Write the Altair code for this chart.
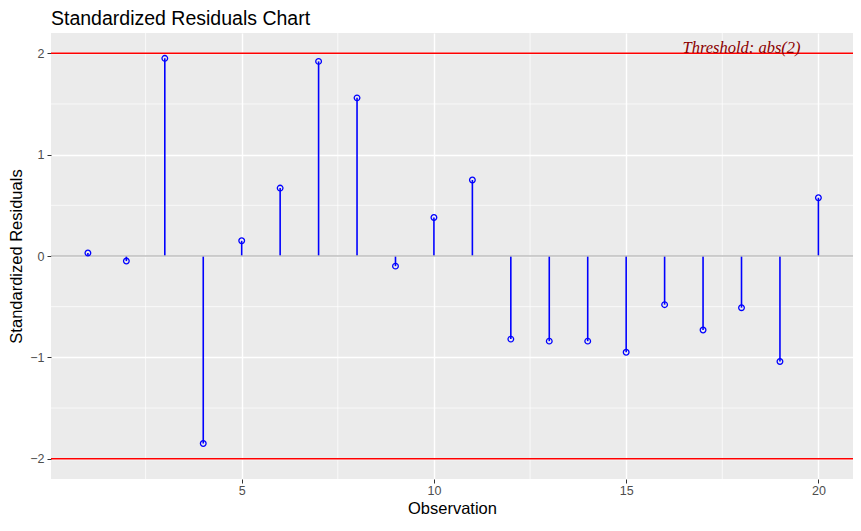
import altair as alt
import pandas as pd

# ---- data ----
observation = list(range(1, 21))
residuals = [0.03, -0.05, 1.95, -1.85, 0.15, 0.67, 1.92, 1.56, -0.10, 0.38,
             0.75, -0.82, -0.84, -0.84, -0.95, -0.48, -0.73, -0.51, -1.04, 0.575]
thresholds = [-2, 2]
zero_line = [0]
x_ticks = [5, 10, 15, 20]
y_ticks = [-2, -1, 0, 1, 2]
x_minor = [2.5, 7.5, 12.5, 17.5]
y_minor = [-1.5, -0.5, 0.5, 1.5]
note_text = ["Threshold: abs(2)"]
note_x = [18]
note_y = [2]

df = pd.DataFrame({"Observation": observation, "Residual": residuals})
thr_df = pd.DataFrame({"Residual": thresholds})
zero_df = pd.DataFrame({"Residual": zero_line})
xmin_df = pd.DataFrame({"Observation": x_minor})
ymin_df = pd.DataFrame({"Residual": y_minor})
note_df = pd.DataFrame({"Observation": note_x, "Residual": note_y, "t": note_text})

FONT = "Liberation Sans"
W, H = 802, 446
xscale = alt.Scale(domain=[0.04, 20.9], nice=False, zero=False)
yscale = alt.Scale(domain=[-2.2, 2.2], nice=False, zero=False)

common_axis = dict(
    grid=True, gridColor="white", gridWidth=1.4, domain=False,
    tickColor="#333333", tickSize=4, tickWidth=1,
    labelColor="#4D4D4D", labelFont=FONT, labelFontSize=12.5,
    titleFont=FONT, titleFontSize=16.5, titleColor="black", titleFontWeight="normal",
)

x_axis = alt.Axis(values=x_ticks, title="Observation", labelPadding=1.5,
                  titleBaseline="alphabetic", titleY=34, **common_axis)
y_axis = alt.Axis(values=y_ticks, title="Standardized Residuals", labelPadding=3,
                  labelExpr="replace(datum.label, '-', '\u2212')",
                  titleX=-35, titleY=H / 2, titleAngle=-90, titleAlign="center",
                  titleBaseline="middle", **common_axis)

X = lambda: alt.X("Observation:Q", scale=xscale, axis=x_axis)
Y = lambda: alt.Y("Residual:Q", scale=yscale, axis=y_axis)

stems = alt.Chart(df).mark_rule(color="#0000FF", strokeWidth=1.6).encode(
    x=X(), y=Y(), y2=alt.Y2(datum=0))

minor_x = alt.Chart(xmin_df).mark_rule(color="white", strokeWidth=0.7).encode(x=X())
minor_y = alt.Chart(ymin_df).mark_rule(color="white", strokeWidth=0.7).encode(y=Y())

zero = alt.Chart(zero_df).mark_rule(color="#BEBEBE", strokeWidth=1.5).encode(y=Y())
thr = alt.Chart(thr_df).mark_rule(color="#FF0000", strokeWidth=1.5).encode(y=Y())

points = alt.Chart(df).mark_point(shape="circle", filled=False, color="#0000FF",
                                  size=32, strokeWidth=1.3, opacity=1).encode(x=X(), y=Y())

note = alt.Chart(note_df).mark_text(font="Liberation Serif", fontStyle="italic",
                                    fontSize=16.5, color="#8B0000", align="center",
                                    baseline="alphabetic").encode(
    x=X(), y=Y(), text="t:N")

chart = alt.layer(minor_x, minor_y, stems, zero, thr, points, note).properties(
    width=W, height=H,
    autosize=alt.AutoSizeParams(type="none"),
    padding={"left": 43, "top": 25, "right": 0, "bottom": 38},
    title=alt.TitleParams("Standardized Residuals Chart", anchor="start", frame="group",
                          font=FONT, fontSize=19.5, fontWeight="normal", color="black",
                          offset=3),
    background="white",
).configure_view(stroke=None, fill="#EBEBEB")

chart.save("out.html", embed_options={"renderer": "svg", "actions": False})
